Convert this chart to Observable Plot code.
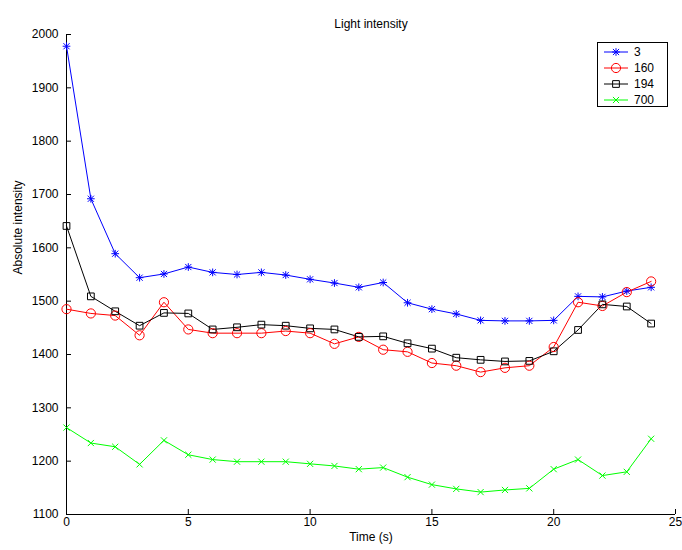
<!DOCTYPE html>
<html>
<head>
<meta charset="utf-8">
<script src="https://cdn.jsdelivr.net/npm/d3@7"></script>
<script src="https://cdn.jsdelivr.net/npm/@observablehq/plot@0.6"></script>
<style>
  html, body { margin: 0; padding: 0; background: #fff; }
  #wrap { position: relative; width: 682px; height: 550px; font-family: "Liberation Sans", Arial, Helvetica, sans-serif; }
  #legend { position: absolute; left: 597px; top: 42px; width: 71px; height: 65px; box-sizing: border-box;
            border: 1px solid #000; background: #fff; }
  .lrow { position: absolute; left: 0; height: 16px; width: 70px; }
  .lrow svg { position: absolute; left: 0; top: 0; }
  .lrow span { position: absolute; left: 36px; top: 0; line-height: 16px; font-size: 12px; color: #000; }
</style>
</head>
<body>
<div id="wrap"><div id="chart"></div><div id="legend"></div></div>
<script>
const time = [0,1,2,3,4,5,6,7,8,9,10,11,12,13,14,15,16,17,18,19,20,21,22,23,24];
const seriesNames = ["3", "160", "194", "700"];
const s3   = [1978,1692,1589,1544,1551,1564,1554,1550,1554,1549,1541,1534,1526,1535,1497,1485,1476,1464,1463,1463,1464,1509,1508,1519,1526];
const s160 = [1485,1477,1473,1436,1498,1447,1440,1440,1440,1444,1440,1420,1433,1409,1405,1384,1379,1367,1375,1379,1414,1498,1491,1517,1537];
const s194 = [1641,1509,1481,1454,1478,1477,1447,1451,1456,1454,1449,1447,1433,1434,1421,1411,1394,1390,1387,1388,1406,1446,1494,1490,1458];
const s700 = [1263,1234,1227,1194,1239,1212,1203,1199,1199,1199,1195,1191,1185,1188,1170,1156,1148,1142,1146,1149,1185,1203,1173,1180,1242];
const xTicks = [0,5,10,15,20,25];
const yTicks = [1100,1200,1300,1400,1500,1600,1700,1800,1900,2000];
const colors = ["#0000ff", "#ff0000", "#000000", "#00ff00"];

const seriesValues = [s3, s160, s194, s700];
const data = [];
seriesNames.forEach((name, i) => {
  time.forEach((t, j) => data.push({t, v: seriesValues[i][j], s: name}));
});
const of = (name) => data.filter(d => d.s === name);

const chart = Plot.plot({
  width: 682,
  height: 550,
  marginLeft: 66,
  marginRight: 7,
  marginTop: 34,
  marginBottom: 36,
  style: {fontFamily: "'Liberation Sans', Arial, Helvetica, sans-serif", fontSize: "12px", color: "#000", background: "#fff"},
  x: {domain: [0, 25]},
  y: {domain: [1100, 2000]},
  color: {domain: seriesNames, range: colors},
  marks: [
    Plot.ruleX([0], {stroke: "#000"}),
    Plot.ruleY([1100], {stroke: "#000"}),
    Plot.axisX({ticks: xTicks, tickSize: -5, tickPadding: 8, tickFormat: d => String(d), label: null}),
    Plot.axisY({ticks: yTicks, tickSize: -5, tickPadding: 13, tickFormat: d => String(d), label: null}),
    Plot.line(data, {x: "t", y: "v", z: "s", stroke: "s", strokeWidth: 1}),
    Plot.dot(of("3"), {x: "t", y: "v", stroke: "s", symbol: "plus", r: 2.6, strokeWidth: 1}),
    Plot.dot(of("3"), {x: "t", y: "v", stroke: "s", symbol: "times", r: 2.9, strokeWidth: 1}),
    Plot.dot(of("160"), {x: "t", y: "v", stroke: "s", symbol: "circle", r: 4.6, strokeWidth: 1, fill: "none"}),
    Plot.dot(of("194"), {x: "t", y: "v", stroke: "s", symbol: "square", r: 3.8, strokeWidth: 1, fill: "none"}),
    Plot.dot(of("700"), {x: "t", y: "v", stroke: "s", symbol: "times", r: 2.9, strokeWidth: 1}),
    Plot.text(["Light intensity"], {frameAnchor: "top", dy: -15, fontSize: 12}),
    Plot.text(["Time (s)"], {frameAnchor: "bottom", dy: 26, fontSize: 12}),
    Plot.text(["Absolute intensity"], {frameAnchor: "left", dx: -48, rotate: -90, fontSize: 12})
  ]
});
document.getElementById("chart").appendChild(chart);

// Legend
const legend = d3.select("#legend");
const symbols = [["plus", "times"], ["circle"], ["square"], ["times"]];
const symMap = {plus: d3.symbolPlus, times: d3.symbolTimes, circle: d3.symbolCircle, square: d3.symbolSquare};
const symR = [[2.6, 2.9], [4.6], [3.8], [2.9]];
seriesNames.forEach((name, i) => {
  const row = legend.append("div").attr("class", "lrow").style("top", (1.3 + i * 15.8) + "px");
  const svg = row.append("svg").attr("width", 34).attr("height", 16);
  svg.append("line").attr("x1", 6).attr("x2", 30).attr("y1", 8).attr("y2", 8)
     .attr("stroke", colors[i]).attr("stroke-width", 1);
  symbols[i].forEach((sym, k) => {
    const r = symR[i][k];
    svg.append("path")
      .attr("d", d3.symbol(symMap[sym], Math.PI * r * r)())
      .attr("transform", "translate(18,8)")
      .attr("fill", "none").attr("stroke", colors[i]).attr("stroke-width", 1);
  });
  row.append("span").text(name);
});
</script>
</body>
</html>
